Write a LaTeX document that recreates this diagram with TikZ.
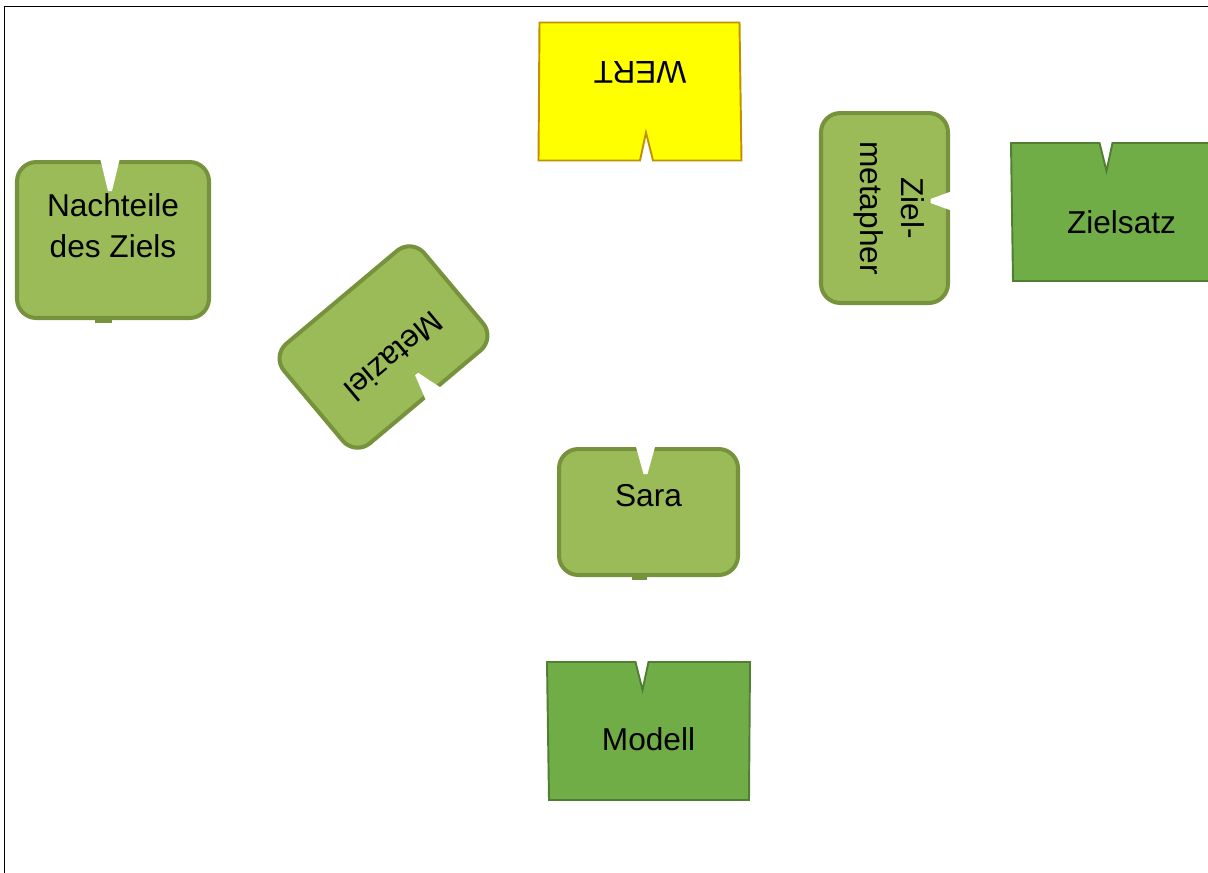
\documentclass[tikz,border=0pt]{standalone}
\usepackage{fontspec}
\setmainfont{Liberation Sans}
\definecolor{cardfill}{RGB}{155,187,89}
\definecolor{cardedge}{RGB}{118,146,60}
\definecolor{flagfill}{RGB}{112,173,71}
\definecolor{flagedge}{RGB}{80,126,50}
\definecolor{wertfill}{RGB}{255,255,0}
\definecolor{wertedge}{RGB}{191,144,0}
\tikzset{
  every picture/.style={font=\fontsize{18}{23.5}\selectfont},
  frame/.style={line width=0.8pt},
  card/.style={draw=cardedge,fill=cardfill,line width=2.3pt,rounded corners=11pt,inner sep=0pt,transform shape},
  notch/.style={fill=white},
  nub/.style={fill=cardedge},
  flag/.style={draw=flagedge,fill=flagfill,line width=1.1pt,transform shape},
  word/.style={inner sep=0pt,align=center,transform shape},
  flagshape/.pic={
    \path[pic actions] (-101.5,69) -- (-13,69) -- (-6,41) -- (0,69) -- (101.5,69)
      -- (100.5,-69) -- (-99.5,-69) -- cycle;
  },
}

\begin{document}
\begin{tikzpicture}[x=0.02cm,y=0.02cm]
  \useasboundingbox (0,0) rectangle (1208,-873);
  \draw[frame] (4.5,-873) -- (4.5,-6.5) -- (1208,-6.5);
  % the rounded cards
  \begin{scope}[shift={(113,-240)}]
    \node[card,minimum width=3.84cm,minimum height=3.12cm] (nachteile) {};
    \fill[notch] (-13,82) -- (7,82) -- (-1,49) -- (-5,49) -- cycle;
    \fill[nub] (-18,-83) rectangle (-1,-77);
    \node[word] (nachteiletext) at (0,14) {Nachteile\\des Ziels};
  \end{scope}
  \begin{scope}[shift={(383.5,-347)},rotate=220]
    \node[card,minimum width=3.66cm,minimum height=2.6cm] (metaziel) {};
    \fill[notch] (-18,69) -- (2,69) -- (-6,42) -- (-10,42) -- cycle;
    \node[word] (metazieltext) at (-2,14) {Metaziel};
  \end{scope}
  \begin{scope}[shift={(884.5,-208)},rotate=-90]
    \node[card,minimum width=3.8cm,minimum height=2.54cm] (zielmetapher) {};
    \fill[notch] (-17,68) -- (3,68) -- (-5,46) -- (-9,46) -- cycle;
    \fill[nub] (-20,-66) rectangle (-1,-62);
    \node[word] (zielmetaphertext) at (0,5) {Ziel-\\metapher};
  \end{scope}
  \begin{scope}[shift={(648.5,-512)}]
    \node[card,minimum width=3.58cm,minimum height=2.52cm] (sara) {};
    \fill[notch] (-13,67) -- (7,67) -- (-1,38) -- (-5,38) -- cycle;
    \fill[nub] (-17,-68) rectangle (-2,-62);
    \node[word] (saratext) at (0,16) {Sara};
  \end{scope}
  % the notched flags
  \begin{scope}[shift={(640,-91.5)},rotate=180]
    \pic[flag,draw=wertedge,fill=wertfill] {flagshape};
    \node[word] (wert) at (0,-19) {WERT};
  \end{scope}
  \begin{scope}[shift={(1112.5,-212)}]
    \pic[flag] {flagshape};
    \node[word] (zielsatz) at (9,-10) {Zielsatz};
  \end{scope}
  \begin{scope}[shift={(648.5,-731)}]
    \pic[flag] {flagshape};
    \node[word] (modell) at (0,-8) {Modell};
  \end{scope}
\end{tikzpicture}
\end{document}
